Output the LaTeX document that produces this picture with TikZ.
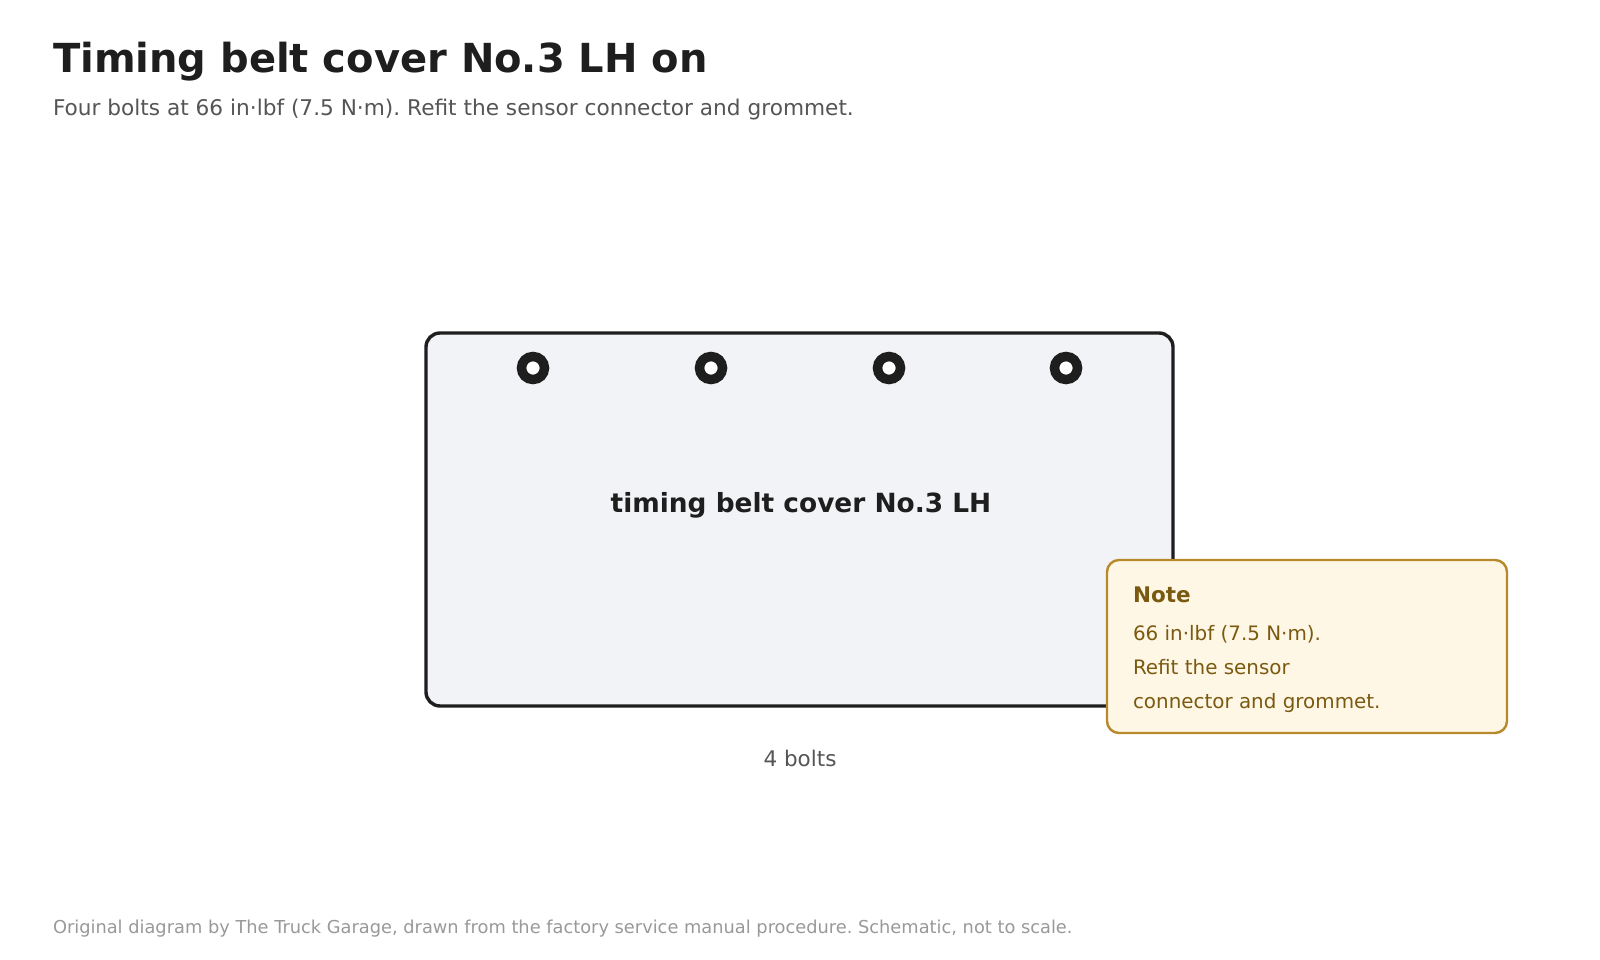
\documentclass[tikz,border=0pt]{standalone}
\usepackage{fontspec}
\setmainfont{DejaVu Sans}
\frenchspacing
\definecolor{ink}{HTML}{1E1E1E}
\definecolor{subgray}{HTML}{555555}
\definecolor{footgray}{HTML}{999999}
\definecolor{panelfill}{HTML}{F2F3F7}
\definecolor{notefill}{HTML}{FFF7E6}
\definecolor{notedraw}{HTML}{B8892A}
\definecolor{notetext}{HTML}{7A5A10}
\tikzset{
  txt/.style={inner sep=0pt, outer sep=0pt, anchor=base west},
  panel/.style={draw=ink, line width=3.4pt, fill=panelfill, rounded corners=14pt},
  notebox/.style={draw=notedraw, line width=2.4pt, fill=notefill, rounded corners=12pt},
  bolt/.style={circle, draw=ink, line width=9.5pt, fill=white, minimum size=23pt, inner sep=0pt},
}
\begin{document}
\begin{tikzpicture}[x=1pt,y=-1pt]
\useasboundingbox[fill=white] (0,0) rectangle (1600,960);
% title
\node[txt, text=ink, font=\fontsize{40}{48}\selectfont\bfseries] (title) at (53,73) {Timing belt cover No.3 LH on};
\node[txt, text=subgray, font=\fontsize{21.65}{26}\selectfont] (sub) at (53,116) {Four bolts at 66 in·lbf (7.5 N·m). Refit the sensor connector and grommet.};
% panel
\draw[panel] (426,333) rectangle (1173,706);
\node[inner sep=0pt, text=ink, font=\fontsize{26.4}{32}\selectfont\bfseries] (lbl) at (801,505) {timing belt cover No.3 LH};
\node[bolt] (b1) at (533,368) {};
\node[bolt] (b2) at (711,368) {};
\node[bolt] (b3) at (889,368) {};
\node[bolt] (b4) at (1066,368) {};
\node[inner sep=0pt, text=subgray, font=\fontsize{21.5}{26}\selectfont] (cnt) at (800,758) {4 bolts};
% note
\draw[notebox] (1107,560) rectangle (1507,733);
\node[txt, text=notetext, font=\fontsize{21.5}{26}\selectfont\bfseries] (nh) at (1133,602) {Note};
\node[txt, text=notetext, font=\fontsize{19.9}{24}\selectfont] (n1) at (1133,640) {66 in·lbf (7.5 N·m).};
\node[txt, text=notetext, font=\fontsize{19.9}{24}\selectfont] (n2) at (1133,674) {Refit the sensor};
\node[txt, text=notetext, font=\fontsize{19.9}{24}\selectfont] (n3) at (1133,708) {connector and grommet.};
% footer
\node[txt, text=footgray, font=\fontsize{17.8}{21}\selectfont] (foot) at (53,933) {Original diagram by The Truck Garage, drawn from the factory service manual procedure. Schematic, not to scale.};
\end{tikzpicture}
\end{document}
